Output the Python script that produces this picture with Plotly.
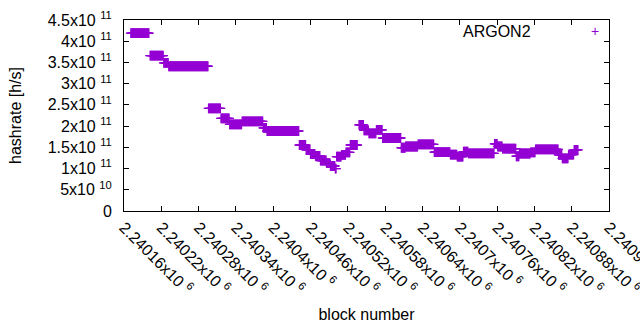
import numpy as np
import plotly.graph_objects as go

# Step segments of the hashrate estimate (first block, last block, hashrate h/s)
seg_start = [2240171, 2240202, 2240224, 2240232, 2240296, 2240316, 2240330, 2240350,
             2240384, 2240390, 2240442, 2240453, 2240460, 2240468, 2240476, 2240486,
             2240492, 2240500, 2240502, 2240510, 2240517, 2240524, 2240538, 2240546,
             2240554, 2240566, 2240576, 2240606, 2240613, 2240633, 2240659, 2240685,
             2240696, 2240706, 2240714, 2240756, 2240761, 2240769, 2240791, 2240796,
             2240814, 2240822, 2240830, 2240859, 2240865, 2240875, 2240884]
seg_end = [2240200, 2240223, 2240231, 2240295, 2240315, 2240329, 2240349, 2240383,
           2240389, 2240441, 2240452, 2240459, 2240467, 2240475, 2240485, 2240491,
           2240499, 2240501, 2240509, 2240516, 2240523, 2240535, 2240545, 2240553,
           2240565, 2240575, 2240605, 2240612, 2240632, 2240658, 2240684, 2240695,
           2240705, 2240713, 2240755, 2240760, 2240768, 2240790, 2240795, 2240813,
           2240821, 2240829, 2240858, 2240864, 2240874, 2240883, 2240890]
seg_value = [4.19e11, 3.66e11, 3.49e11, 3.41e11, 2.42e11, 2.18e11, 2.04e11, 2.11e11,
             1.96e11, 1.885e11, 1.555e11, 1.44e11, 1.34e11, 1.30e11, 1.19e11, 1.13e11,
             1.06e11, 1.00e11, 1.28e11, 1.32e11, 1.38e11, 1.555e11, 2.03e11, 1.90e11,
             1.83e11, 1.91e11, 1.72e11, 1.49e11, 1.52e11, 1.57e11, 1.385e11, 1.33e11,
             1.28e11, 1.40e11, 1.36e11, 1.58e11, 1.52e11, 1.47e11, 1.29e11, 1.355e11,
             1.38e11, 1.45e11, 1.45e11, 1.32e11, 1.24e11, 1.33e11, 1.44e11]

x_tickvals = [2240160, 2240220, 2240280, 2240340, 2240400, 2240460, 2240520,
              2240580, 2240640, 2240700, 2240760, 2240820, 2240880, 2240940]
x_ticktext = ["2.24016x10 <sup>6</sup>", "2.24022x10 <sup>6</sup>", "2.24028x10 <sup>6</sup>",
              "2.24034x10 <sup>6</sup>", "2.2404x10 <sup>6</sup>", "2.24046x10 <sup>6</sup>",
              "2.24052x10 <sup>6</sup>", "2.24058x10 <sup>6</sup>", "2.24064x10 <sup>6</sup>",
              "2.2407x10 <sup>6</sup>", "2.24076x10 <sup>6</sup>", "2.24082x10 <sup>6</sup>",
              "2.24088x10 <sup>6</sup>", "2.24094x10 <sup>6</sup>"]
y_tickvals = [0, 5e10, 1e11, 1.5e11, 2e11, 2.5e11, 3e11, 3.5e11, 4e11, 4.5e11]
y_ticktext = ["0", "5x10 <sup>10</sup>", "1x10 <sup>11</sup>", "1.5x10 <sup>11</sup>",
              "2x10 <sup>11</sup>", "2.5x10 <sup>11</sup>", "3x10 <sup>11</sup>",
              "3.5x10 <sup>11</sup>", "4x10 <sup>11</sup>", "4.5x10 <sup>11</sup>"]

blocks = np.concatenate([np.arange(s, e + 1) for s, e in zip(seg_start, seg_end)])
rates = np.concatenate([np.full(e - s + 1, v) for s, e, v in zip(seg_start, seg_end, seg_value)])

COLOR = "#9400D3"
FONT = "Liberation Sans, Arial, sans-serif"
FS = 16

fig = go.Figure()
fig.add_trace(go.Scatter(
    x=blocks, y=rates, mode="markers", name="ARGON2",
    marker=dict(symbol="cross-thin", size=7, color=COLOR,
                line=dict(width=1.3, color=COLOR)),
    showlegend=False,
))

axis_common = dict(showgrid=False, zeroline=False, showline=True, linecolor="black",
                   linewidth=1, mirror="ticks", ticks="inside", ticklen=5,
                   tickcolor="black", ticklabeloverflow="allow", automargin=False,
                   tickfont=dict(family=FONT, size=FS, color="black"))

fig.update_xaxes(range=[2240160, 2240940], tickmode="array", tickvals=x_tickvals,
                 ticktext=x_ticktext, tickangle=45,
                 title=dict(text="block number", standoff=12,
                            font=dict(family=FONT, size=FS, color="black")),
                 **axis_common)
fig.update_yaxes(range=[0, 4.5e11], tickmode="array", tickvals=y_tickvals,
                 ticktext=y_ticktext, ticklabelstandoff=8,
                 title=dict(text="hashrate [h/s]", standoff=22,
                            font=dict(family=FONT, size=FS, color="black")),
                 **axis_common)

fig.add_annotation(xref="paper", yref="paper", x=0.843, y=0.94, text="ARGON2",
                   showarrow=False, xanchor="right", yanchor="middle",
                   font=dict(family=FONT, size=FS, color="black"))
fig.add_annotation(xref="paper", yref="paper", x=0.971, y=0.94, text="+",
                   showarrow=False, xanchor="center", yanchor="middle",
                   font=dict(family=FONT, size=14, color=COLOR))

fig.update_layout(width=640, height=330, margin=dict(l=124, r=31, t=20, b=119),
                  plot_bgcolor="white", paper_bgcolor="white",
                  font=dict(family=FONT, size=FS, color="black"))

fig.write_html("out.html")
